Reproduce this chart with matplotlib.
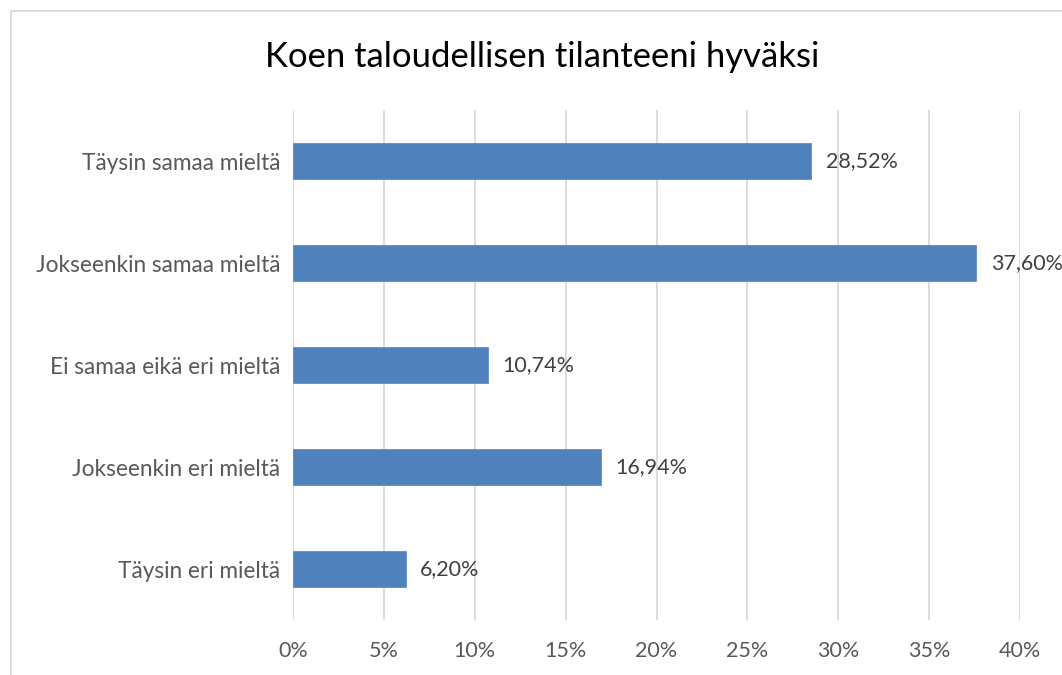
import matplotlib
matplotlib.use("Agg")
import matplotlib.pyplot as plt
from matplotlib.patches import Rectangle

# data
categories = ["Täysin samaa mieltä", "Jokseenkin samaa mieltä", "Ei samaa eikä eri mieltä",
              "Jokseenkin eri mieltä", "Täysin eri mieltä"]
values = [28.52, 37.60, 10.74, 16.94, 6.20]
xticks = [0, 5, 10, 15, 20, 25, 30, 35, 40]

plt.rcParams['font.family'] = ['Lato', 'DejaVu Sans']

fig = plt.figure(figsize=(10.62, 6.75), dpi=100)
ax = fig.add_axes([293/1062, 55/675, (1020-293)/1062, (620-110)/675])

# outer chart frame (left and top visible)
fig.patches.append(Rectangle((11/1062, -0.1), 1.2, 1 - 11/675 + 0.1, transform=fig.transFigure,
                             fill=False, edgecolor='#d9d9d9', linewidth=1.3))

y = list(range(len(categories)))
ax.barh(y, values, height=0.36, color='#4f81bd', edgecolor='#5b8ec8', linewidth=0.6, zorder=3)
ax.set_ylim(len(categories) - 0.5, -0.5)
ax.set_xlim(0, 40)
ax.set_xticks(xticks)
ax.set_xticklabels([f"{t}%" for t in xticks])
ax.set_yticks(y)
ax.set_yticklabels(categories)
ax.grid(axis='x', color='#d9d9d9', linewidth=1.3, zorder=0)
for s in ax.spines.values():
    s.set_visible(False)
ax.tick_params(axis='x', length=0, labelsize=15.5, labelcolor='#595959', pad=15)
ax.tick_params(axis='y', length=0, labelsize=16.3, labelcolor='#595959', pad=9)

for yi, v in zip(y, values):
    ax.text(v + 0.8, yi, f"{v:.2f}%".replace('.', ','), va='center', ha='left',
            fontsize=15.5, color='#404040')

fig.text(542/1062, 1 - 57/675, "Koen taloudellisen tilanteeni hyväksi", ha='center', va='center',
         fontsize=24.9, color='black')

fig.savefig("out.png", dpi=100)
